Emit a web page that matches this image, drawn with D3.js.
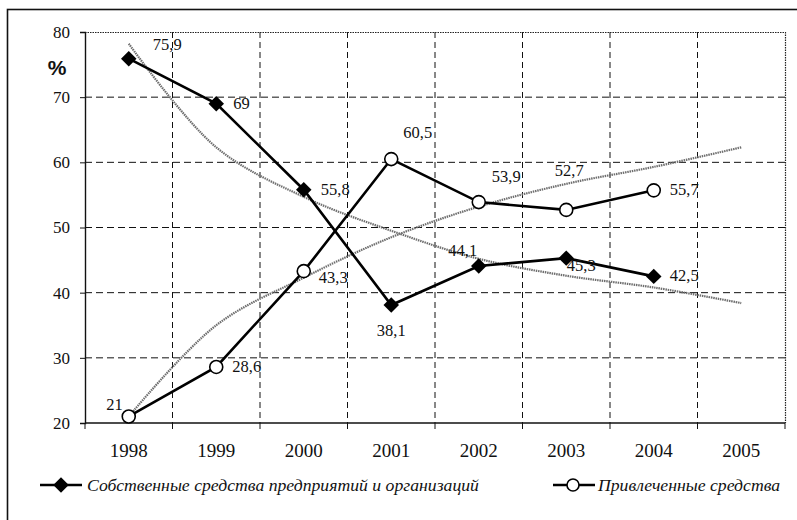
<!DOCTYPE html>
<html>
<head>
<meta charset="utf-8">
<script src="https://cdn.jsdelivr.net/npm/d3@7"></script>
<style>
  body { margin: 0; background: #fff; }
  svg { display: block; }
</style>
</head>
<body>
<div id="chart"></div>
<script>
// Data
var years       = ['1998', '1999', '2000', '2001', '2002', '2003', '2004', '2005'];
var own_values  = [75.9, 69, 55.8, 38.1, 44.1, 45.3, 42.5];
var own_labels  = ['75,9', '69', '55,8', '38,1', '44,1', '45,3', '42,5'];
var att_values  = [21, 28.6, 43.3, 60.5, 53.9, 52.7, 55.7];
var att_labels  = ['21', '28,6', '43,3', '60,5', '53,9', '52,7', '55,7'];
// trend curves (one value per year)
var own_trend   = [78.2, 62.3, 54.7, 49.5, 45.2, 42.6, 40.8, 38.4];
var att_trend   = [21, 35, 42.3, 48.5, 53.2, 56.7, 59.3, 62.3];
var y_ticks     = [20, 30, 40, 50, 60, 70, 80];
var legend_names = ['Собственные средства предприятий и организаций', 'Привлеченные средства'];

var chart_width  = 797;
var chart_height = 520;
var serif = "'Liberation Serif'";

var svg = d3.select('#chart')
    .append('svg')
    .attr('width', chart_width)
    .attr('height', chart_height);

// outer frame
svg.append('rect')
    .attr('x', 7.5)
    .attr('y', 9.5)
    .attr('width', 820)
    .attr('height', 540)
    .attr('fill', 'none')
    .attr('stroke', '#111')
    .attr('stroke-width', 1.6);

var x = d3.scaleBand()
    .domain(years)
    .range([85, 785]);

var y = d3.scaleLinear()
    .domain([20, 80])
    .range([423, 32]);

function cx(i) { return x(years[i]) + x.bandwidth() / 2; }

// horizontal grid
svg.append('g')
    .selectAll('line')
    .data(y_ticks.filter(function(d){ return d > 20 && d < 80; }))
    .enter()
    .append('line')
    .attr('x1', 85).attr('x2', 785)
    .attr('y1', function(d){ return y(d); })
    .attr('y2', function(d){ return y(d); })
    .attr('stroke', '#111')
    .attr('stroke-width', 1)
    .attr('stroke-dasharray', '7,4');

// vertical grid at band boundaries
svg.append('g')
    .selectAll('line')
    .data(years.slice(1))
    .enter()
    .append('line')
    .attr('x1', function(d){ return x(d); })
    .attr('x2', function(d){ return x(d); })
    .attr('y1', 32).attr('y2', 423)
    .attr('stroke', '#111')
    .attr('stroke-width', 1)
    .attr('stroke-dasharray', '6,4');

// dotted top and right border of plot area
svg.append('path')
    .attr('d', 'M85,32.5H785.5V423')
    .attr('fill', 'none')
    .attr('stroke', '#222')
    .attr('stroke-width', 1.2)
    .attr('stroke-dasharray', '1.5,1');

// y axis
var y_axis = svg.append('g')
    .attr('transform', 'translate(85,0)')
    .call(d3.axisLeft(y).tickValues(y_ticks).tickSize(5).tickPadding(10));
y_axis.select('.domain').attr('stroke', '#111').attr('stroke-width', 1.4);
y_axis.selectAll('.tick line').attr('stroke', '#111');
y_axis.selectAll('text')
    .style('font-family', serif)
    .style('font-size', '17px')
    .attr('fill', '#111');

// x axis: ticks at band boundaries
var x_axis = svg.append('g')
    .attr('transform', 'translate(0,423)');
x_axis.append('line')
    .attr('x1', 85).attr('x2', 785)
    .attr('stroke', '#111')
    .attr('stroke-width', 1.6);
x_axis.selectAll('line.tk')
    .data(years.concat(['end']))
    .enter()
    .append('line')
    .attr('class', 'tk')
    .attr('x1', function(d, i){ return 85 + i * x.bandwidth(); })
    .attr('x2', function(d, i){ return 85 + i * x.bandwidth(); })
    .attr('y1', 0).attr('y2', 6)
    .attr('stroke', '#111');
x_axis.selectAll('text')
    .data(years)
    .enter()
    .append('text')
    .attr('x', function(d){ return x(d) + x.bandwidth() / 2; })
    .attr('y', 34)
    .attr('text-anchor', 'middle')
    .style('font-family', serif)
    .style('font-size', '19px')
    .attr('fill', '#111')
    .text(function(d){ return d; });

// % label
svg.append('text')
    .attr('x', 57)
    .attr('y', 75)
    .attr('text-anchor', 'middle')
    .style('font-family', "'Liberation Sans'")
    .style('font-weight', 'bold')
    .style('font-size', '21px')
    .attr('fill', '#111')
    .text('%');

// trend lines
var trend_line = d3.line()
    .x(function(d, i){ return cx(i); })
    .y(function(d){ return y(d); })
    .curve(d3.curveCatmullRom);

[own_trend, att_trend].forEach(function(t){
    svg.append('path')
        .attr('d', trend_line(t))
        .attr('fill', 'none')
        .attr('stroke', '#6e6e6e')
        .attr('stroke-width', 2.2)
        .attr('stroke-dasharray', '1.5,0.8');
});

// series lines
var series_line = d3.line()
    .x(function(d, i){ return cx(i); })
    .y(function(d){ return y(d); });

svg.append('path')
    .attr('d', series_line(own_values))
    .attr('fill', 'none')
    .attr('stroke', '#000')
    .attr('stroke-width', 2.6);

svg.append('path')
    .attr('d', series_line(att_values))
    .attr('fill', 'none')
    .attr('stroke', '#000')
    .attr('stroke-width', 2.6);

var diamond = d3.symbol().type(d3.symbolSquare).size(120);

svg.append('g')
    .selectAll('path')
    .data(own_values)
    .enter()
    .append('path')
    .attr('d', diamond)
    .attr('transform', function(d, i){ return 'translate(' + cx(i) + ',' + y(d) + ') rotate(45)'; })
    .attr('fill', '#000');

svg.append('g')
    .selectAll('circle')
    .data(att_values)
    .enter()
    .append('circle')
    .attr('cx', function(d, i){ return cx(i); })
    .attr('cy', function(d){ return y(d); })
    .attr('r', 6.5)
    .attr('fill', '#fff')
    .attr('stroke', '#000')
    .attr('stroke-width', 1.6);

// label offsets [dx, dy, anchor]
var own_pos = [[24, -9, 'start'], [17, 5, 'start'], [17, 5, 'start'], [0, 31, 'middle'],
               [-16, -10, 'middle'], [15, 13, 'middle'], [16, 5, 'start']];
var att_pos = [[-6, -6, 'end'], [16, 5, 'start'], [15, 12, 'start'], [12, -21, 'start'],
               [13, -20, 'start'], [3, -34, 'middle'], [16, 5, 'start']];

function add_labels(values, labels, pos) {
    svg.append('g')
        .selectAll('text')
        .data(values)
        .enter()
        .append('text')
        .attr('x', function(d, i){ return cx(i) + pos[i][0]; })
        .attr('y', function(d, i){ return y(d) + pos[i][1]; })
        .attr('text-anchor', function(d, i){ return pos[i][2]; })
        .style('font-family', serif)
        .style('font-size', '16.5px')
        .attr('fill', '#111')
        .text(function(d, i){ return labels[i]; });
}
add_labels(own_values, own_labels, own_pos);
add_labels(att_values, att_labels, att_pos);

// legend
var legend = svg.append('g');
legend.append('line')
    .attr('x1', 40).attr('x2', 82).attr('y1', 485).attr('y2', 485)
    .attr('stroke', '#000').attr('stroke-width', 2.6);
legend.append('path')
    .attr('d', diamond)
    .attr('transform', 'translate(61,485) rotate(45)')
    .attr('fill', '#000');
legend.append('text')
    .attr('x', 87).attr('y', 491)
    .style('font-family', serif)
    .style('font-style', 'italic')
    .style('font-size', '17.7px')
    .attr('fill', '#111')
    .text(legend_names[0]);

legend.append('line')
    .attr('x1', 553).attr('x2', 595).attr('y1', 485).attr('y2', 485)
    .attr('stroke', '#000').attr('stroke-width', 2.6);
legend.append('circle')
    .attr('cx', 573).attr('cy', 485).attr('r', 6)
    .attr('fill', '#fff').attr('stroke', '#000').attr('stroke-width', 1.6);
legend.append('text')
    .attr('x', 598).attr('y', 491)
    .style('font-family', serif)
    .style('font-style', 'italic')
    .style('font-size', '17.7px')
    .attr('fill', '#111')
    .text(legend_names[1]);
</script>
</body>
</html>
